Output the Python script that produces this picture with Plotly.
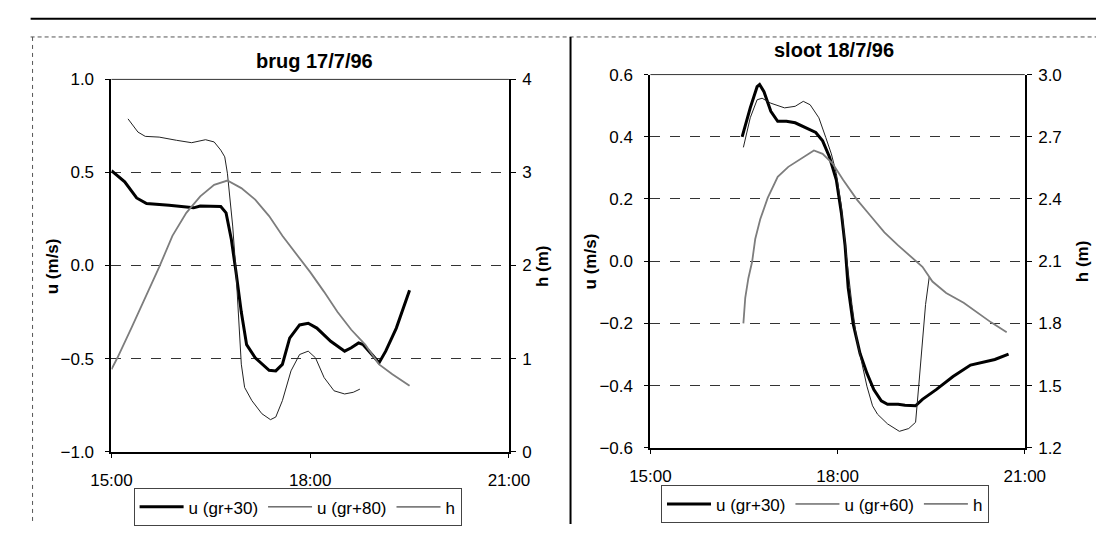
import plotly.graph_objects as go

W, H = 1117, 534

# ---------------- data (time in decimal hours) ----------------
# Left panel: brug 17/7/96
brug_t_u30 = [15.0, 15.2, 15.38, 15.53, 15.87, 16.13, 16.24, 16.34, 16.65, 16.73, 16.81, 16.88, 16.96,
              17.04, 17.17, 17.38, 17.48, 17.58, 17.69, 17.84, 17.97, 18.1, 18.31, 18.52, 18.62, 18.73,
              18.8, 19.04, 19.14, 19.3, 19.5]
brug_u30 = [0.51, 0.45, 0.363, 0.333, 0.324, 0.313, 0.31, 0.32, 0.317, 0.283, 0.14, -0.035, -0.25,
            -0.425, -0.496, -0.563, -0.566, -0.531, -0.39, -0.319, -0.31, -0.336, -0.407, -0.46, -0.442,
            -0.416, -0.425, -0.522, -0.46, -0.336, -0.133]

brug_t_u80 = [15.25, 15.4, 15.51, 15.72, 15.98, 16.21, 16.42, 16.55, 16.65, 16.71, 16.75, 16.78, 16.83,
              16.88, 16.96, 17.01, 17.12, 17.27, 17.4, 17.48, 17.58, 17.71, 17.84, 17.97, 18.08, 18.21,
              18.36, 18.52, 18.65, 18.75]
brug_u80 = [0.788, 0.717, 0.694, 0.69, 0.673, 0.66, 0.676, 0.664, 0.62, 0.584, 0.496, 0.39, 0.212,
            -0.035, -0.53, -0.655, -0.726, -0.796, -0.828, -0.814, -0.726, -0.566, -0.478, -0.46, -0.496,
            -0.602, -0.673, -0.69, -0.681, -0.664]

brug_t_h = [15.0, 15.09, 15.3, 15.51, 15.72, 15.92, 16.13, 16.34, 16.55, 16.75, 16.96, 17.17, 17.38,
            17.58, 17.79, 18.0, 18.21, 18.41, 18.62, 18.83, 19.04, 19.24, 19.5]
brug_h = [0.885, 1.009, 1.327, 1.646, 1.982, 2.319, 2.566, 2.743, 2.867, 2.913, 2.832, 2.708, 2.531,
          2.319, 2.124, 1.929, 1.717, 1.504, 1.31, 1.15, 0.938, 0.832, 0.708]

# Right panel: sloot 18/7/96
sloot_t_u30 = [16.47, 16.6, 16.71, 16.75, 16.82, 16.93, 17.04, 17.18, 17.32, 17.48, 17.65, 17.76, 17.87,
               17.98, 18.06, 18.12, 18.17, 18.25, 18.36, 18.47, 18.58, 18.7, 18.8, 18.97, 19.08, 19.25,
               19.36, 19.58, 19.85, 20.13, 20.35, 20.52, 20.74]
sloot_u30 = [0.4, 0.493, 0.561, 0.568, 0.545, 0.482, 0.45, 0.45, 0.445, 0.429, 0.414, 0.387, 0.335,
             0.261, 0.156, 0.05, -0.086, -0.202, -0.297, -0.36, -0.413, -0.449, -0.46, -0.46, -0.463,
             -0.465, -0.444, -0.413, -0.371, -0.334, -0.323, -0.316, -0.299]

sloot_t_u60 = [16.49, 16.6, 16.71, 16.79, 16.93, 17.15, 17.32, 17.45, 17.56, 17.7, 17.81, 17.9, 17.98,
               18.06, 18.14, 18.23, 18.31, 18.39, 18.47, 18.56, 18.64, 18.8, 18.99, 19.14, 19.25, 19.3,
               19.36, 19.41, 19.47]
sloot_u60 = [0.366, 0.461, 0.519, 0.524, 0.508, 0.493, 0.498, 0.514, 0.503, 0.461, 0.398, 0.345, 0.282,
             0.177, 0.019, -0.139, -0.255, -0.328, -0.402, -0.465, -0.492, -0.523, -0.547, -0.538, -0.518,
             -0.402, -0.244, -0.139, -0.049]

sloot_t_h = [16.49, 16.52, 16.57, 16.63, 16.68, 16.76, 16.88, 17.04, 17.21, 17.37, 17.54, 17.62, 17.76,
             17.92, 18.09, 18.31, 18.53, 18.75, 18.97, 19.19, 19.36, 19.52, 19.74, 20.02, 20.24, 20.46, 20.71]
sloot_h = [1.8, 1.923, 2.018, 2.097, 2.207, 2.302, 2.405, 2.507, 2.555, 2.586, 2.621, 2.634, 2.618,
           2.571, 2.492, 2.397, 2.318, 2.239, 2.176, 2.12, 2.073, 2.002, 1.947, 1.9, 1.852, 1.805, 1.757]

time_tickvals = [15, 18, 21]
time_ticktext = ["15:00", "18:00", "21:00"]
brug_u_ticks = [-1.0, -0.5, 0.0, 0.5, 1.0]
brug_h_ticks = [0, 1, 2, 3, 4]
sloot_u_ticks = [-0.6, -0.4, -0.2, 0.0, 0.2, 0.4, 0.6]
sloot_h_ticks = [1.2, 1.5, 1.8, 2.1, 2.4, 2.7, 3.0]

titles = ["brug 17/7/96", "sloot 18/7/96"]
legend_names_left = ["u (gr+30)", "u (gr+80)", "h"]
legend_names_right = ["u (gr+30)", "u (gr+60)", "h"]

# ---------------- styling helpers ----------------
FONT = "Liberation Sans, Arial, sans-serif"
px = lambda x: x / W
py = lambda y: 1 - y / H

THICK = dict(color="black", width=3)
THIN = dict(color="#222222", width=1)
HLINE = dict(color="#7d7d7d", width=1.8)

fig = go.Figure()

# left panel
fig.add_trace(go.Scatter(x=brug_t_u30, y=brug_u30, mode="lines", line=THICK, name=legend_names_left[0],
                         xaxis="x", yaxis="y", legend="legend"))
fig.add_trace(go.Scatter(x=brug_t_u80, y=brug_u80, mode="lines", line=THIN, name=legend_names_left[1],
                         xaxis="x", yaxis="y", legend="legend"))
fig.add_trace(go.Scatter(x=brug_t_h, y=brug_h, mode="lines", line=HLINE, name=legend_names_left[2],
                         xaxis="x", yaxis="y2", legend="legend"))
# right panel
fig.add_trace(go.Scatter(x=sloot_t_u30, y=sloot_u30, mode="lines", line=THICK, name=legend_names_right[0],
                         xaxis="x2", yaxis="y3", legend="legend2"))
fig.add_trace(go.Scatter(x=sloot_t_u60, y=sloot_u60, mode="lines", line=THIN, name=legend_names_right[1],
                         xaxis="x2", yaxis="y3", legend="legend2"))
fig.add_trace(go.Scatter(x=sloot_t_h, y=sloot_h, mode="lines", line=HLINE, name=legend_names_right[2],
                         xaxis="x2", yaxis="y4", legend="legend2"))

tickfont = dict(family=FONT, size=17, color="black")

def xaxis(domain, anchor):
    return dict(domain=domain, anchor=anchor, range=[15, 21], tickvals=time_tickvals, ticktext=time_ticktext,
                showgrid=False, zeroline=False, showline=True, linecolor="black", linewidth=2,
                ticks="outside", ticklen=4, tickcolor="black", tickfont=tickfont, ticklabelstandoff=8)

def yleft(domain, anchor, rng, ticks):
    return dict(domain=domain, anchor=anchor, range=rng, tickvals=ticks,
                tickformat=".1f", showgrid=True, gridcolor="#333333", gridwidth=1, griddash="10px,10px",
                zeroline=False, showline=True, linecolor="black", linewidth=2,
                ticks="outside", ticklen=4, tickcolor="black", tickfont=tickfont, ticklabelstandoff=8)

def yright(overlay, anchor, rng, ticks, fmt):
    return dict(overlaying=overlay, anchor=anchor, side="right", range=rng, tickvals=ticks, tickformat=fmt,
                showgrid=False, zeroline=False, showline=True, linecolor="black", linewidth=2,
                ticks="outside", ticklen=5, tickcolor="black", tickfont=tickfont, ticklabelstandoff=3)

L_dom_x = [px(94), px(507)]
L_dom_y = [py(459), py(73)]
R_dom_x = [px(654), px(1043)]
R_dom_y = [py(455), py(68)]

legend_common = dict(orientation="h", xanchor="left", yanchor="top", bgcolor="white",
                     bordercolor="#444444", borderwidth=1, font=dict(family=FONT, size=17, color="black"),
                     itemclick=False, tracegroupgap=0, itemwidth=44)

fig.update_layout(
    width=W, height=H, margin=dict(l=0, r=0, t=0, b=0),
    paper_bgcolor="white", plot_bgcolor="white",
    font=dict(family=FONT, color="black"),
    xaxis=xaxis(L_dom_x, "y"),
    yaxis=yleft(L_dom_y, "x", [-1, 1], brug_u_ticks),
    yaxis2=yright("y", "x", [0, 4], brug_h_ticks, "d"),
    xaxis2=xaxis(R_dom_x, "y3"),
    yaxis3=yleft(R_dom_y, "x2", [-0.6, 0.6], sloot_u_ticks),
    yaxis4=yright("y3", "x2", [1.2, 3.0], sloot_h_ticks, ".1f"),
    legend=dict(x=px(117), y=py(497), **legend_common),
    legend2=dict(x=px(665), y=py(494), **legend_common),
    showlegend=True,
)

ann = []
title_font = dict(family=FONT, size=20, color="black")
ann.append(dict(text="<b>" + titles[0] + "</b>", x=px(305), y=py(54), xref="paper", yref="paper",
                showarrow=False, xanchor="center", yanchor="middle", font=title_font))
ann.append(dict(text="<b>" + titles[1] + "</b>", x=px(845), y=py(43), xref="paper", yref="paper",
                showarrow=False, xanchor="center", yanchor="middle", font=title_font))
axis_font = dict(family=FONT, size=17, color="black")
for text, x, y in [("u (m/s)", 33, 267), ("h (m)", 542, 267), ("u (m/s)", 592, 262), ("h (m)", 1103, 262)]:
    ann.append(dict(text="<b>" + text + "</b>", x=px(x), y=py(y), xref="paper", yref="paper",
                    showarrow=False, xanchor="center", yanchor="middle", textangle=-90, font=axis_font))
fig.update_layout(annotations=ann)

shapes = [
    # page rule at top
    dict(type="line", xref="paper", yref="paper", x0=px(10), x1=1, y0=py(10), y1=py(10),
         line=dict(color="black", width=2)),
    # dashed frame top
    dict(type="line", xref="paper", yref="paper", x0=px(10), x1=1, y0=py(29), y1=py(29),
         line=dict(color="#555555", width=1, dash="4px,3px")),
    # dashed frame left
    dict(type="line", xref="paper", yref="paper", x0=px(12), x1=px(12), y0=py(29), y1=0,
         line=dict(color="#555555", width=1, dash="4px,4px")),
    # panel separator
    dict(type="line", xref="paper", yref="paper", x0=px(571), x1=px(571), y0=py(29), y1=0,
         line=dict(color="black", width=2)),
    # plot area top borders
    dict(type="line", xref="paper", yref="paper", x0=L_dom_x[0], x1=L_dom_x[1], y0=L_dom_y[1], y1=L_dom_y[1],
         line=dict(color="#333333", width=1)),
    dict(type="line", xref="paper", yref="paper", x0=R_dom_x[0], x1=R_dom_x[1], y0=R_dom_y[1], y1=R_dom_y[1],
         line=dict(color="#333333", width=1)),
]
fig.update_layout(shapes=shapes)

fig.write_html("out.html")
